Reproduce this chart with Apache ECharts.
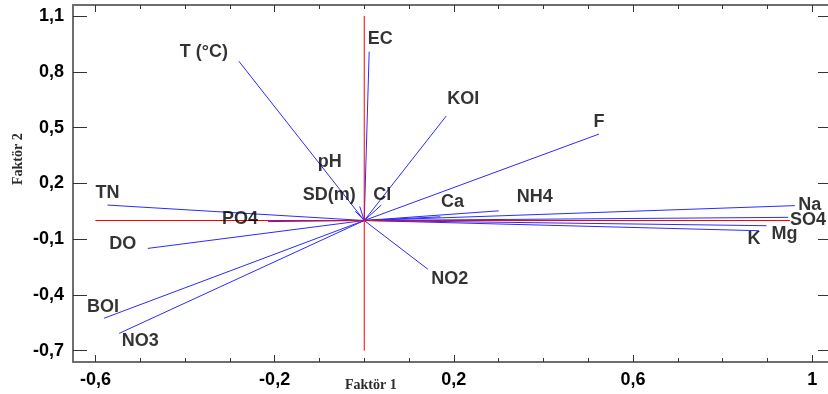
<!DOCTYPE html>
<html>
<head>
<meta charset="utf-8">
<script src="https://cdn.jsdelivr.net/npm/echarts@6/dist/echarts.min.js"></script>
<style>
  html, body { margin: 0; padding: 0; background: #fff; }
  #chart { width: 828px; height: 394px; }
</style>
</head>
<body>
<div id="chart"></div>
<script>
// loadings (Faktör 1, Faktör 2)
const varNames = ['T (°C)', 'EC', 'KOI', 'F', 'pH', 'SD(m)', 'Cl', 'Ca', 'NH4', 'Na', 'SO4', 'Mg', 'K', 'TN', 'PO4', 'DO', 'BOI', 'NO3', 'NO2'];
const factor1 = [-0.280, 0.011, 0.183, 0.524, -0.010, -0.020, 0.038, 0.170, 0.300, 0.961, 0.946, 0.898, 0.881, -0.573, -0.215, -0.483, -0.581, -0.547, 0.142];
const factor2 = [0.857, 0.908, 0.562, 0.465, 0.075, 0.050, 0.083, 0.020, 0.052, 0.080, 0.017, -0.028, -0.055, 0.083, -0.006, -0.150, -0.526, -0.607, -0.262];

const xTickLabels = [-0.6, -0.2, 0.2, 0.6, 1];
const xMinorTicks = [-0.6, -0.5, -0.4, -0.3, -0.2, -0.1, 0, 0.1, 0.2, 0.3, 0.4, 0.5, 0.6, 0.7, 0.8, 0.9, 1];
const yTickLabels = [-0.7, -0.4, -0.1, 0.2, 0.5, 0.8, 1.1];

// red cross through the origin
const zeroLineX = [-0.6, 0.95];
const zeroLineY = [-0.7, 1.1];

// where each name sits relative to the end of its vector (px)
const labelOffsets = {
    'T (°C)': [-35, -9], 'EC': [11, -13], 'KOI': [17, -17], 'F': [0, -12],
    'pH': [-30, -45], 'SD(m)': [-26, -16], 'Cl': [1, -10], 'Ca': [12, -15],
    'NH4': [36, -14], 'Na': [15, -1], 'SO4': [20, 3], 'Mg': [18, 8], 'K': [-5, 8],
    'TN': [0, -12], 'PO4': [-28, -3], 'DO': [-25, -4], 'BOI': [-1, -11],
    'NO3': [21, 8], 'NO2': [22, 10]
};

const fmt = v => String(v).replace('.', ',');
const axisGray = '#6e6e6e';
const labelFont = {color: '#000', fontWeight: 'bold', fontSize: 18, fontFamily: 'Liberation Sans, Arial, sans-serif'};

const vectors = varNames.map((n, i) => [factor1[i], factor2[i]]);

const chart = echarts.init(document.getElementById('chart'));

const xBase = {type: 'value', min: -0.65, max: 1.035, gridIndex: 0, splitLine: {show: false}};
const yBase = {type: 'value', min: -0.761, max: 1.159, gridIndex: 0, splitLine: {show: false}};

const option = {
    backgroundColor: '#fff',
    animation: false,
    grid: {left: 73, right: 0, top: 5, bottom: 32},
    xAxis: [
        Object.assign({}, xBase, {
            position: 'bottom',
            axisLine: {show: true, onZero: false, lineStyle: {color: axisGray, width: 2}},
            axisTick: {show: true, inside: true, length: 7, customValues: xTickLabels, lineStyle: {color: '#333'}},
            axisLabel: Object.assign({customValues: xTickLabels, margin: 9, formatter: fmt}, labelFont)
        }),
        Object.assign({}, xBase, {
            position: 'bottom',
            axisLine: {show: false, onZero: false},
            axisTick: {show: true, inside: true, length: 4, customValues: xMinorTicks, lineStyle: {color: '#333'}},
            axisLabel: {show: false}
        }),
        Object.assign({}, xBase, {
            position: 'top',
            axisLine: {show: true, onZero: false, lineStyle: {color: axisGray, width: 2}},
            axisTick: {show: true, inside: true, length: 7, customValues: xTickLabels, lineStyle: {color: '#333'}},
            axisLabel: {show: false}
        }),
        Object.assign({}, xBase, {
            position: 'top',
            axisLine: {show: false, onZero: false},
            axisTick: {show: true, inside: true, length: 4, customValues: xMinorTicks, lineStyle: {color: '#333'}},
            axisLabel: {show: false}
        })
    ],
    yAxis: [
        Object.assign({}, yBase, {
            position: 'left',
            axisLine: {show: true, onZero: false, lineStyle: {color: axisGray, width: 2}},
            axisTick: {show: true, inside: true, length: 14, customValues: yTickLabels, lineStyle: {color: '#333'}},
            axisLabel: Object.assign({customValues: yTickLabels, margin: 9, formatter: fmt}, labelFont)
        }),
        Object.assign({}, yBase, {
            position: 'right',
            axisLine: {show: false, onZero: false},
            axisTick: {show: true, inside: true, length: 10, customValues: yTickLabels, lineStyle: {color: '#333'}},
            axisLabel: {show: false}
        })
    ],
    graphic: [
        {
            type: 'text', left: 345, top: 378,
            style: {text: 'Faktör 1', font: 'bold 14px "Liberation Serif", "Times New Roman", serif', fill: '#2b2b2b'}
        },
        {
            type: 'text', x: 11, y: 185, rotation: Math.PI / 2,
            style: {text: 'Faktör 2', font: 'bold 14px "Liberation Serif", "Times New Roman", serif', fill: '#2b2b2b'}
        }
    ],
    series: [
        {
            type: 'custom',
            xAxisIndex: 0,
            yAxisIndex: 0,
            z: 2,
            renderItem: function (params, api) {
                const o = api.coord([0, 0]);
                const p = api.coord([api.value(0), api.value(1)]);
                return {
                    type: 'line',
                    shape: {x1: o[0], y1: o[1], x2: p[0], y2: p[1]},
                    style: {stroke: '#2b2bff', lineWidth: 1}
                };
            },
            data: vectors
        },
        {
            type: 'line',
            xAxisIndex: 0,
            yAxisIndex: 0,
            z: 3,
            symbol: 'none',
            lineStyle: {color: '#ff0000', width: 1},
            data: [[zeroLineX[0], 0], [zeroLineX[1], 0]]
        },
        {
            type: 'line',
            xAxisIndex: 0,
            yAxisIndex: 0,
            z: 3,
            symbol: 'none',
            lineStyle: {color: '#ff0000', width: 1},
            data: [[0, zeroLineY[0]], [0, zeroLineY[1]]]
        },
        {
            type: 'scatter',
            xAxisIndex: 0,
            yAxisIndex: 0,
            z: 4,
            symbolSize: 0,
            silent: true,
            data: varNames.map((n, i) => ({
                name: n,
                value: vectors[i],
                label: {offset: labelOffsets[n]}
            })),
            label: Object.assign({
                show: true,
                position: 'inside',
                align: 'center',
                verticalAlign: 'middle',
                formatter: p => p.name
            }, labelFont)
        }
    ]
};

chart.setOption(option);
</script>
</body>
</html>
